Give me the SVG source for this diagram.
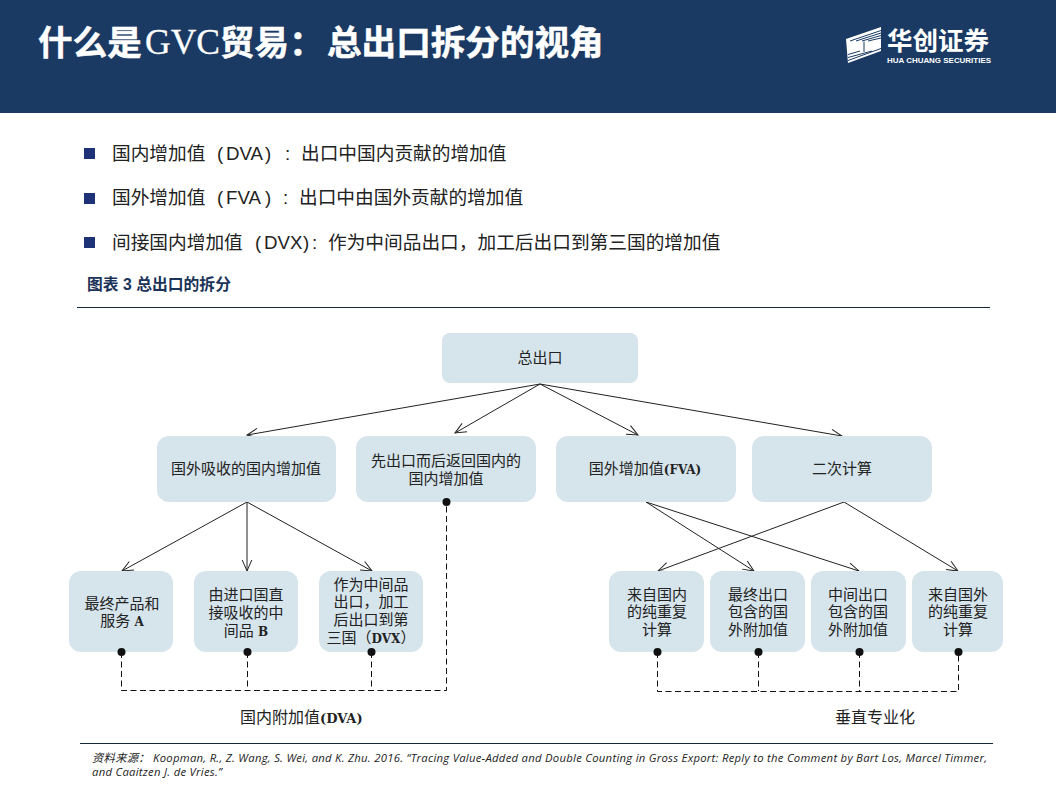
<svg xmlns="http://www.w3.org/2000/svg" width="1056" height="792" viewBox="0 0 1056 792">
<defs>
<marker id="arr" markerUnits="userSpaceOnUse" markerWidth="14" markerHeight="12" refX="12" refY="6" orient="auto"><path d="M1 1.2 L12 6 L1 10.8" fill="none" stroke="#222" stroke-width="1"/></marker>
</defs>
<style>
text{font-family:"Liberation Sans","Noto Sans CJK SC",sans-serif;}
.box{fill:#d6e4ec;}
.t{font-size:15px;fill:#222;text-anchor:middle;}
.b{font-family:"DejaVu Serif",serif;font-weight:700;font-size:12px;}
.bul{font-size:18.7px;fill:#222;}
.tt{font-size:34.6px;font-weight:700;fill:#fff;stroke:#fff;stroke-width:.5px;}
.c{fill:none;stroke:#222;stroke-width:1;}
.d{fill:none;stroke:#111;stroke-width:1;stroke-dasharray:6 3.5;}
.s{fill:#1e3278;}
</style>
<rect width="1056" height="113" fill="#1a3a63"/>
<g id="title"><text class="tt" x="38" y="55">什么是</text><text x="145" y="54" font-size="35" fill="#fff" stroke="#fff" stroke-width=".3" style="font-family:'Liberation Serif',serif" textLength="75" lengthAdjust="spacingAndGlyphs">GVC</text><text class="tt" x="220" y="55">贸易：</text><text class="tt" x="327" y="55">总出口拆分的视角</text></g>
<g id="logo"><path d="M846 39 L881 27 V51 L848 63 Z" fill="#fff"/><path d="M850 41L881 30.500M856 41L881 33M862 41L881 35.500M868 41L881 38M864 41.500V52M848 60.500L881 48.500M848 57.500L872 51M848 54.500L860 51" fill="none" stroke="#1a3a63" stroke-width="1"/><text x="887" y="50" font-size="25.500" font-weight="700" fill="#fff">华创证券</text><text x="887" y="62.500" font-size="7.500" font-weight="700" fill="#fff" textLength="104" lengthAdjust="spacingAndGlyphs">HUA CHUANG SECURITIES</text></g>
<g id="bullets">
<rect class="s" x="84" y="148" width="11" height="11"/><text class="bul" x="112" y="160">国内增加值</text><text class="bul" x="217" y="160">(</text><text class="bul" x="226" y="160">DVA</text><text class="bul" x="265" y="160">)</text><text class="bul" x="285" y="160">:</text><text class="bul" x="301" y="160">出口中国内贡献的增加值</text>
<rect class="s" x="84" y="193" width="11" height="11"/><text class="bul" x="112" y="204">国外增加值</text><text class="bul" x="217" y="204">(</text><text class="bul" x="226" y="204">FVA</text><text class="bul" x="265" y="204">)</text><text class="bul" x="283" y="204">:</text><text class="bul" x="299" y="204">出口中由国外贡献的增加值</text>
<rect class="s" x="84" y="237" width="11" height="11"/><text class="bul" x="112" y="249">间接国内增加值</text><text class="bul" x="255" y="249">(</text><text class="bul" x="264" y="249">DVX</text><text class="bul" x="303" y="249">)</text><text class="bul" x="312" y="249">:</text><text class="bul" x="328" y="249">作为中间品出口，加工后出口到第三国的增加值</text>
</g>
<text x="87" y="290" font-size="15.800" font-weight="700" fill="#1b3358">图表 3 总出口的拆分</text>
<path d="M77 307.500H990" stroke="#14283c" fill="none"/>
<g id="connectors">
<path class="c" marker-end="url(#arr)" d="M540 384L247 435"/><path class="c" marker-end="url(#arr)" d="M540 384L455 433"/><path class="c" marker-end="url(#arr)" d="M540 384L638 435"/><path class="c" marker-end="url(#arr)" d="M540 384L842 436"/>
<path class="c" marker-end="url(#arr)" d="M247 502L122 571"/><path class="c" marker-end="url(#arr)" d="M247 502V571"/><path class="c" marker-end="url(#arr)" d="M247 502L372 571"/>
<path class="c" marker-end="url(#arr)" d="M646 502L754 571"/><path class="c" marker-end="url(#arr)" d="M646 502L859 571"/><path class="c" marker-end="url(#arr)" d="M844 502L658 571"/><path class="c" marker-end="url(#arr)" d="M844 502L958 571"/>
<path class="d" d="M121.500 652V690.500H446.500V502M247.500 652V690M371.500 652V690"/><path class="d" d="M657.500 652V691.500H958.500V652M758.500 652V691M859.500 652V691"/>
</g>
<g id="n0"><rect class="box" x="442" y="333" width="196" height="50" rx="8"/><text class="t" x="540" y="363">总出口</text></g>
<g id="n1"><rect class="box" x="157" y="436" width="179" height="66" rx="12"/><text class="t" x="246" y="474">国外吸收的国内增加值</text></g>
<g id="n2"><rect class="box" x="356" y="436" width="180" height="66" rx="12"/><text class="t" x="446" y="466">先出口而后返回国内的</text><text class="t" x="446" y="484">国内增加值</text></g>
<g id="n3"><rect class="box" x="556" y="436" width="180" height="66" rx="12"/><text class="t" x="645" y="474">国外增加值<tspan class="b">(FVA)</tspan></text></g>
<g id="n4"><rect class="box" x="752" y="436" width="180" height="66" rx="12"/><text class="t" x="842" y="474">二次计算</text></g>
<g id="n5"><rect class="box" x="69" y="571" width="104" height="81" rx="12"/><text class="t" x="122" y="609">最终产品和</text><text class="t" x="122" y="626">服务 <tspan class="b">A</tspan></text></g>
<g id="n6"><rect class="box" x="194" y="571" width="104" height="81" rx="12"/><text class="t" x="246" y="600">由进口国直</text><text class="t" x="246" y="618">接吸收的中</text><text class="t" x="246" y="636">间品 <tspan class="b">B</tspan></text></g>
<g id="n7"><rect class="box" x="319" y="571" width="104" height="81" rx="12"/><text class="t" x="371" y="590">作为中间品</text><text class="t" x="371" y="607">出口，加工</text><text class="t" x="371" y="625">后出口到第</text><text class="t" x="371" y="643">三国（<tspan class="b">DVX</tspan>）</text></g>
<g id="n8"><rect class="box" x="609" y="571" width="95" height="81" rx="12"/><text class="t" x="657" y="600">来自国内</text><text class="t" x="657" y="617">的纯重复</text><text class="t" x="657" y="635">计算</text></g>
<g id="n9"><rect class="box" x="710" y="571" width="95" height="81" rx="12"/><text class="t" x="758" y="600">最终出口</text><text class="t" x="758" y="617">包含的国</text><text class="t" x="758" y="635">外附加值</text></g>
<g id="n10"><rect class="box" x="811" y="571" width="95" height="81" rx="12"/><text class="t" x="858" y="600">中间出口</text><text class="t" x="858" y="617">包含的国</text><text class="t" x="858" y="635">外附加值</text></g>
<g id="n11"><rect class="box" x="912" y="571" width="91" height="81" rx="12"/><text class="t" x="958" y="600">来自国外</text><text class="t" x="958" y="617">的纯重复</text><text class="t" x="958" y="635">计算</text></g>
<g id="dots" fill="#111"><circle cx="446.500" cy="502" r="4"/><circle cx="121.500" cy="652" r="4"/><circle cx="247.500" cy="652" r="4"/><circle cx="371.500" cy="652" r="4"/><circle cx="657.500" cy="652" r="4"/><circle cx="758.500" cy="652" r="4"/><circle cx="859.500" cy="652" r="4"/><circle cx="958.500" cy="652" r="4"/></g>
<text x="240" y="723" font-size="16" fill="#222">国内附加值<tspan class="b" style="font-size:13px">(DVA)</tspan></text>
<text x="835" y="723" font-size="16" fill="#222">垂直专业化</text>
<path d="M80 743.500H993" stroke="#14283c" fill="none"/>
<g id="source" font-size="11.300" font-style="italic" fill="#222" style="font-family:'Open Sans','Noto Sans CJK SC',sans-serif"><text x="92" y="762" style="font-family:inherit" textLength="895" lengthAdjust="spacing">资料来源：  Koopman, R., Z. Wang, S. Wei, and K. Zhu. 2016. “Tracing Value-Added and Double Counting in Gross Export: Reply to the Comment by Bart Los, Marcel Timmer,</text><text x="92" y="776" style="font-family:inherit" textLength="130" lengthAdjust="spacing">and Caaitzen J. de Vries.”</text></g>
</svg>
